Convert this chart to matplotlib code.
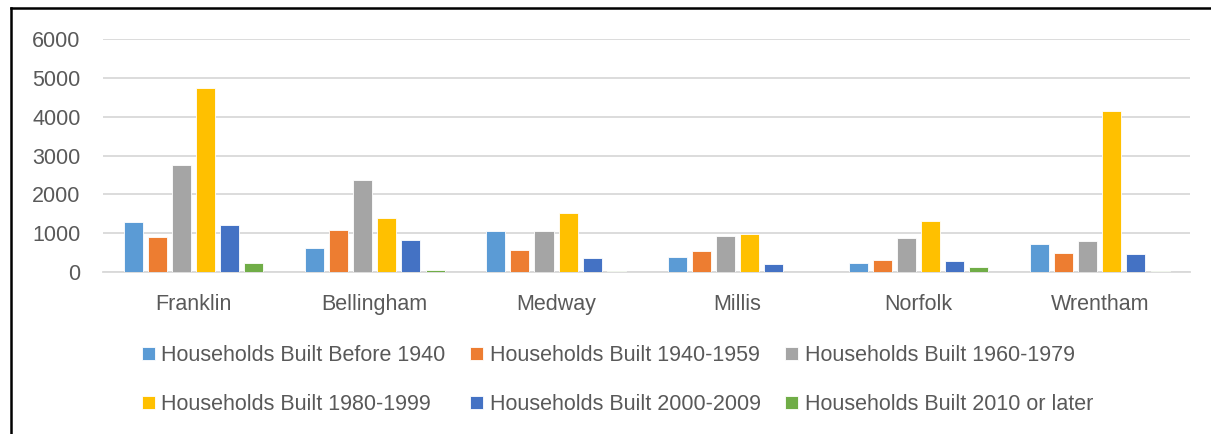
import matplotlib
matplotlib.use("Agg")
import matplotlib.pyplot as plt
import numpy as np
from matplotlib.lines import Line2D

plt.rcParams['font.family'] = ['Liberation Sans', 'DejaVu Sans']

towns = ["Franklin", "Bellingham", "Medway", "Millis", "Norfolk", "Wrentham"]
series_names = ["Households Built Before 1940", "Households Built 1940-1959",
                "Households Built 1960-1979", "Households Built 1980-1999",
                "Households Built 2000-2009", "Households Built 2010 or later"]
before_1940 = [1290, 619, 1057, 387, 232, 713]
y1940_1959 = [894, 1090, 567, 533, 309, 482]
y1960_1979 = [2750, 2371, 1048, 928, 884, 799]
y1980_1999 = [4750, 1383, 1512, 971, 1306, 4142]
y2000_2009 = [1220, 816, 361, 206, 275, 464]
y2010_later = [232, 50, 26, 0, 127, 40]
colors = ["#5B9BD5", "#ED7D31", "#A5A5A5", "#FFC000", "#4472C4", "#70AD47"]

all_series = [before_1940, y1940_1959, y1960_1979, y1980_1999, y2000_2009, y2010_later]

fig = plt.figure(figsize=(12.11, 4.34), dpi=100)
ax = fig.add_axes([0.085, 0.373, 0.898, 0.537])

x = np.arange(len(towns))
step = 0.133
width = 0.105
bars = []
for i, vals in enumerate(all_series):
    b = ax.bar(x + (i - 2.5) * step, vals, width, color=colors[i],
               edgecolor="white", linewidth=0.6, label=series_names[i], zorder=3)
    bars.append(b)

ax.set_xlim(-0.5, len(towns) - 0.5)
ax.set_ylim(0, 6000)
ax.set_yticks(range(0, 6001, 1000))
ax.set_xticks(x)
ax.set_xticklabels(towns)
ax.yaxis.grid(True, color="#D9D9D9", linewidth=1.3, zorder=0)
ax.set_axisbelow(True)
for s in ["top", "right", "left"]:
    ax.spines[s].set_visible(False)
ax.spines["bottom"].set_color("#D9D9D9")
ax.spines["bottom"].set_linewidth(1.3)
ax.tick_params(axis="both", length=0, labelsize=15.5, colors="#595959")
ax.tick_params(axis="y", pad=16)
ax.tick_params(axis="x", pad=16)

# legend filled row by row
order = [0, 3, 1, 4, 2, 5]
leg = fig.legend([bars[k] for k in order], [series_names[k] for k in order],
                 ncol=3, loc="center", bbox_to_anchor=(0.51, 0.124), frameon=False,
                 fontsize=15.5, handlelength=0.6, handleheight=0.6, handletextpad=0.3,
                 columnspacing=1.15, labelspacing=1.3)
for t in leg.get_texts():
    t.set_color("#595959")

# outer frame
fig.add_artist(Line2D([0.009, 1.0], [0.981, 0.981], color="black", linewidth=1.8,
                      transform=fig.transFigure))
fig.add_artist(Line2D([0.009, 0.009], [0.0, 0.981], color="black", linewidth=1.8,
                      transform=fig.transFigure))

fig.savefig("out.png", dpi=100)
